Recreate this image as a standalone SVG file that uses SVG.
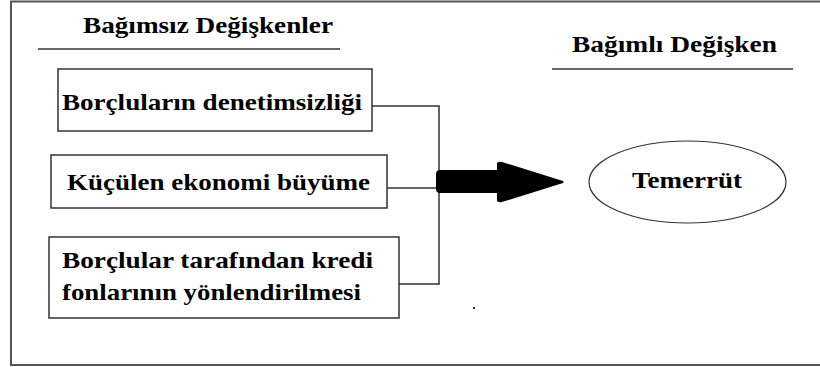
<svg xmlns="http://www.w3.org/2000/svg" width="820" height="367" viewBox="0 0 820 367">
<style>
.t{font-family:'Liberation Serif','Times New Roman',serif;font-weight:bold;font-size:23px;fill:#000}
.box{fill:#fff;stroke:#333;stroke-width:1.5}
.ln{stroke:#333;stroke-width:1.5;fill:none}
</style>
<rect width="820" height="367" fill="#fff"/>
<rect x="11" y="1.5" width="812" height="363.5" fill="none" stroke="#555" stroke-width="2"/>
<g id="title-left">
<text class="t" x="83" y="33" textLength="250" lengthAdjust="spacingAndGlyphs">Bağımsız Değişkenler</text>
<line class="ln" x1="38" y1="49" x2="340" y2="49"/>
</g>
<g id="title-right">
<text class="t" x="572" y="52" textLength="205" lengthAdjust="spacingAndGlyphs">Bağımlı Değişken</text>
<line class="ln" x1="552" y1="69" x2="793" y2="69"/>
</g>
<g id="connectors">
<polyline class="ln" points="372,106 439,106 439,284 399,284"/>
<line class="ln" x1="387" y1="188" x2="439" y2="188"/>
<path d="M440,170 L497,170 L497,163 Q499,161 502,162 L563,181 Q564,182 563,183 L502,202 Q499,203 497,201 L497,193 L440,193 Q436,193 436,189 L436,174 Q436,170 440,170 Z" fill="#000"/>
</g>
<g id="n1">
<rect class="box" x="58" y="69" width="314" height="62"/>
<text class="t" x="62" y="110" textLength="300" lengthAdjust="spacingAndGlyphs">Borçluların denetimsizliği</text>
</g>
<g id="n2">
<rect class="box" x="51" y="155" width="336" height="53"/>
<text class="t" x="67" y="190" textLength="303" lengthAdjust="spacingAndGlyphs">Küçülen ekonomi büyüme</text>
</g>
<g id="n3">
<rect class="box" x="49" y="237" width="350" height="81"/>
<text class="t" x="62" y="268" textLength="311" lengthAdjust="spacingAndGlyphs">Borçlular tarafından kredi</text>
<text class="t" x="62" y="300" textLength="299" lengthAdjust="spacingAndGlyphs">fonlarının yönlendirilmesi</text>
</g>
<g id="n4">
<ellipse cx="687.5" cy="182" rx="98.5" ry="41" fill="#fff" stroke="#333" stroke-width="1.2"/>
<text class="t" x="632" y="188" textLength="110" lengthAdjust="spacingAndGlyphs">Temerrüt</text>
</g>
<rect x="473" y="307" width="2" height="2" fill="#333"/>
</svg>
